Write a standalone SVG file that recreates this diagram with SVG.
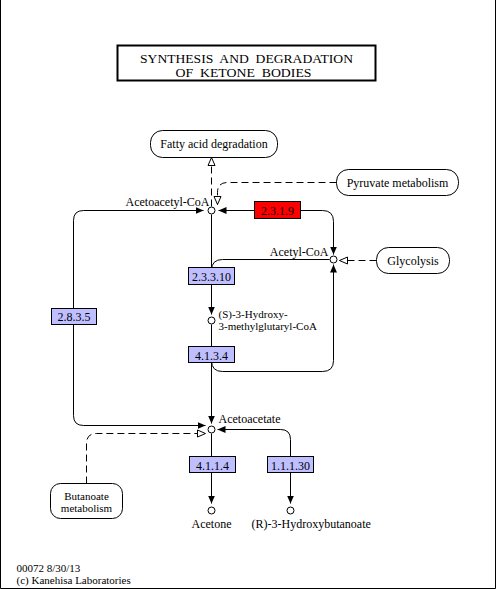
<svg xmlns="http://www.w3.org/2000/svg" width="496" height="589" viewBox="0 0 496 589">
<defs>
<style>
text{font-family:"Liberation Serif","Times New Roman",serif;font-size:12px;fill:#000}
.c{text-anchor:middle}
.e{text-anchor:end}
.s{font-size:11px}
.t{font-size:13px}
.ln{fill:none;stroke:#000;stroke-width:1}
.dl{fill:none;stroke:#000;stroke-width:1;stroke-dasharray:7,4}
.cpd{fill:#fff;stroke:#000;stroke-width:1}
.ec{fill:#BFBFFF;stroke:#000;stroke-width:1}
.ecr{fill:#FF0000;stroke:#000;stroke-width:1}
.map{fill:#fff;stroke:#000;stroke-width:1}
</style>
<marker id="a" viewBox="0 0 8 7" refX="8" refY="3.5" markerWidth="8" markerHeight="7" markerUnits="userSpaceOnUse" orient="auto-start-reverse"><path d="M0,0 L8,3.5 L0,7 z" fill="#000"/></marker>
<marker id="h" viewBox="-1 -1 10 9" refX="8" refY="3.5" markerWidth="10" markerHeight="9" markerUnits="userSpaceOnUse" orient="auto"><path d="M0,0 L8,3.5 L0,7 z" fill="#fff" stroke="#000" stroke-dasharray="none"/></marker>
</defs>
<rect x="0" y="0" width="496" height="589" fill="#fff"/>
<path d="M0.5,0 V588.5 H495.5 V0" fill="none" stroke="#000"/>
<g transform="translate(0.5,0.5)">
<g id="connectors">
<path class="ln" d="M203,210 H83 Q73,210 73,220 V415 Q73,425 83,425 H205" marker-start="url(#a)" marker-end="url(#a)"/>
<path class="ln" d="M218,210 H322 Q333,210 333,221 V254" marker-start="url(#a)" marker-end="url(#a)"/>
<path class="ln" d="M211,214 V314" marker-end="url(#a)"/>
<path class="ln" d="M329,259 H222 Q211,259 211,270"/>
<path class="ln" d="M211,324 V423" marker-end="url(#a)"/>
<path class="ln" d="M211,350 V360 Q211,371 222,371 H322 Q333,371 333,360 V264" marker-end="url(#a)"/>
<path class="ln" d="M211,433 V503" marker-end="url(#a)"/>
<path class="ln" d="M217,429 H280 Q290,429 290,439 V503" marker-start="url(#a)" marker-end="url(#a)"/>
<path class="dl" d="M211,206 V157" marker-end="url(#h)"/>
<path class="dl" d="M336,182 H227 Q217,182 217,192 V204" marker-end="url(#h)"/>
<path class="dl" d="M376,260 H339" marker-end="url(#h)"/>
<path class="dl" d="M86,483 V443 Q86,433 96,433 H205" marker-end="url(#h)"/>
</g>
<g id="title">
<rect x="117" y="45" width="258" height="35" fill="#fff" stroke="#000" stroke-width="2"/>
<text class="c t" x="246" y="62" textLength="213" lengthAdjust="spacingAndGlyphs" xml:space="preserve">SYNTHESIS  AND  DEGRADATION</text>
<text class="c t" x="243" y="76" textLength="136" lengthAdjust="spacingAndGlyphs" xml:space="preserve">OF  KETONE  BODIES</text>
</g>
<g id="map-fatty-acid-degradation">
<rect class="map" x="150" y="130" width="127" height="27" rx="12"/>
<text class="c" x="213.5" y="147">Fatty acid degradation</text>
</g>
<g id="map-pyruvate-metabolism">
<rect class="map" x="336" y="169" width="122" height="26" rx="12"/>
<text class="c" x="397" y="186">Pyruvate metabolism</text>
</g>
<g id="map-glycolysis">
<rect class="map" x="376" y="247" width="73" height="26" rx="12"/>
<text class="c" x="412.5" y="264">Glycolysis</text>
</g>
<g id="map-butanoate-metabolism">
<rect class="map" x="50" y="483" width="72" height="35" rx="10"/>
<text class="c s" x="86" y="499">Butanoate</text>
<text class="c s" x="86" y="511">metabolism</text>
</g>
<g id="ec-2.3.1.9">
<rect class="ecr" x="254" y="201" width="46" height="17"/>
<text class="c" x="277" y="214">2.3.1.9</text>
</g>
<g id="ec-2.3.3.10">
<rect class="ec" x="188" y="267" width="46" height="17"/>
<text class="c" x="211" y="280">2.3.3.10</text>
</g>
<g id="ec-4.1.3.4">
<rect class="ec" x="188" y="346" width="46" height="16"/>
<text class="c" x="211" y="359">4.1.3.4</text>
</g>
<g id="ec-2.8.3.5">
<rect class="ec" x="51" y="308" width="45" height="16"/>
<text class="c" x="73.5" y="320">2.8.3.5</text>
</g>
<g id="ec-4.1.1.4">
<rect class="ec" x="189" y="456" width="46" height="16"/>
<text class="c" x="212" y="469">4.1.1.4</text>
</g>
<g id="ec-1.1.1.30">
<rect class="ec" x="267" y="456" width="46" height="16"/>
<text class="c" x="290" y="469">1.1.1.30</text>
</g>
<g id="cpd-acetoacetyl-coa">
<circle class="cpd" cx="211" cy="210" r="3.5"/>
<text class="e" x="209" y="205">Acetoacetyl-CoA</text>
</g>
<g id="cpd-acetyl-coa">
<circle class="cpd" cx="333" cy="259" r="3.5"/>
<text class="e" x="328" y="255">Acetyl-CoA</text>
</g>
<g id="cpd-hmg-coa">
<circle class="cpd" cx="211" cy="320" r="3.5"/>
<text class="s" x="218" y="317">(S)-3-Hydroxy-</text>
<text class="s" x="218" y="329">3-methylglutaryl-CoA</text>
</g>
<g id="cpd-acetoacetate">
<circle class="cpd" cx="211" cy="429" r="3.5"/>
<text x="218" y="422">Acetoacetate</text>
</g>
<g id="cpd-acetone">
<circle class="cpd" cx="211" cy="510" r="3.5"/>
<text class="c" x="211" y="527">Acetone</text>
</g>
<g id="cpd-r-3-hydroxybutanoate">
<circle class="cpd" cx="290" cy="510" r="3.5"/>
<text x="251" y="527">(R)-3-Hydroxybutanoate</text>
</g>
<g id="footer">
<text class="s" x="16" y="571">00072 8/30/13</text>
<text class="s" x="16" y="583">(c) Kanehisa Laboratories</text>
</g>
</g>
</svg>
